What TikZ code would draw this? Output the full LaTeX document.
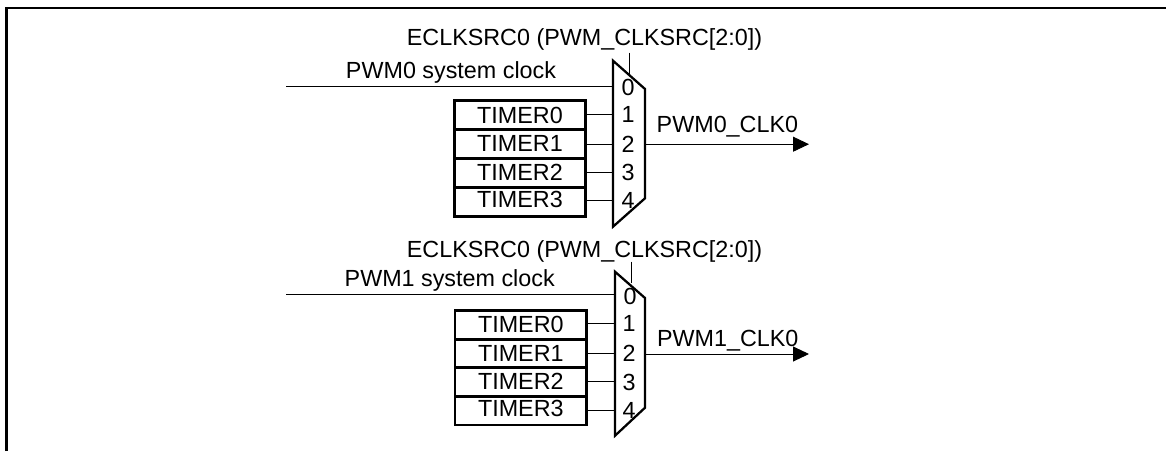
\documentclass[tikz,border=0pt]{standalone}
\usepackage{fontspec}
\setmainfont{Liberation Sans}
\usetikzlibrary{arrows.meta}
\tikzset{
  lbl/.style={inner sep=0pt,text height=12.5pt,text depth=0pt,font=\fontsize{17.5}{19}\selectfont},
  timerbox/.style={draw,line width=2pt,minimum width=98.6pt,minimum height=21.7pt,inner sep=0pt,text height=12.5pt,text depth=0.6pt,font=\fontsize{17.5}{19}\selectfont},
  wire/.style={line width=0.7pt},
  muxbody/.style={line width=1.7pt,line join=miter}
}
\begin{document}
\begin{tikzpicture}[>={Triangle[length=12pt,width=11.25pt]},x=0.75pt,y=-0.75pt]
\useasboundingbox (0,0) rectangle (1166,451);
\draw [line width=1.6pt] (6.5,451)-- (6.5,8)-- (1166,8);
% upper mux
\coordinate (ma1) at (613,60.7);
\coordinate (ma2) at (645,89);
\coordinate (ma3) at (645,198.3);
\coordinate (ma4) at (613,226.7);
\coordinate (ca) at (629,52.7);
\coordinate (ia) at (286,86.7);
\coordinate (oa) at (809,144.2);
\coordinate (ta) at (629,75);
\coordinate (ra) at (645,144.2);
\coordinate (la) at (613,86.7);
\draw [muxbody] (ma1)-- (ma2)-- (ma3)-- (ma4)-- cycle;
\node[lbl] (sela) at (584.5,37) {ECLKSRC0 (PWM\_CLKSRC[2:0])};
\node[lbl] (clka) at (451,70) {PWM0 system clock};
\node[lbl] (outa) at (727.4,123.8) {PWM0\_CLK0};
\node[lbl] (a0) at (628,87) {0};
\node[lbl] (a1) at (628,114) {1};
\node[lbl] (a2) at (628,144) {2};
\node[lbl] (a3) at (628,172) {3};
\node[lbl] (a4) at (628,200) {4};
\node[timerbox] (ta0) at (520,115.1) {TIMER0};
\node[timerbox] (ta1) at (520,144) {TIMER1};
\node[timerbox] (ta2) at (520,172.5) {TIMER2};
\node[timerbox,text depth=3.6pt] (ta3) at (520,201.7) {TIMER3};
\draw [wire] (ia)-- (la);
\draw [wire] (ca)-- (ta);
\draw [wire] (ta0.east |- a1)-- (a1 -| la);
\draw [wire] (ta1.east)-- (ta1.east -| la);
\draw [wire] (ta2.east)-- (ta2.east -| la);
\draw [wire] (ta3.east |- a4)-- (a4 -| la);
\draw [wire,->] (ra)-- (oa);
% lower mux
\coordinate (mb1) at (615,271.7);
\coordinate (mb2) at (645,298);
\coordinate (mb3) at (645,407.7);
\coordinate (mb4) at (615,435.7);
\coordinate (cb) at (631,261.7);
\coordinate (ib) at (286,294);
\coordinate (ob) at (809,354);
\coordinate (tb) at (631,283);
\coordinate (rb) at (645,354);
\coordinate (lb) at (615,294);
\draw [muxbody] (mb1)-- (mb2)-- (mb3)-- (mb4)-- cycle;
\node[lbl] (selb) at (584.5,249.3) {ECLKSRC0 (PWM\_CLKSRC[2:0])};
\node[lbl] (clkb) at (449.7,278) {PWM1 system clock};
\node[lbl] (outb) at (727.7,338) {PWM1\_CLK0};
\node[lbl] (b0) at (630,296) {0};
\node[lbl] (b1) at (629,323.3) {1};
\node[lbl] (b2) at (629,353.3) {2};
\node[lbl] (b3) at (629,381.7) {3};
\node[lbl] (b4) at (629,410) {4};
\node[timerbox] (tb0) at (520.8,324.7) {TIMER0};
\node[timerbox] (tb1) at (520.8,353.6) {TIMER1};
\node[timerbox] (tb2) at (520.8,381.9) {TIMER2};
\node[timerbox,text depth=3.6pt] (tb3) at (520.8,410.5) {TIMER3};
\draw [wire] (ib)-- (lb);
\draw [wire] (cb)-- (tb);
\draw [wire] (tb0.east |- b1)-- (b1 -| lb);
\draw [wire] (tb1.east)-- (tb1.east -| lb);
\draw [wire] (tb2.east)-- (tb2.east -| lb);
\draw [wire] (tb3.east |- b4)-- (b4 -| lb);
\draw [wire,->] (rb)-- (ob);
\end{tikzpicture}
\end{document}
